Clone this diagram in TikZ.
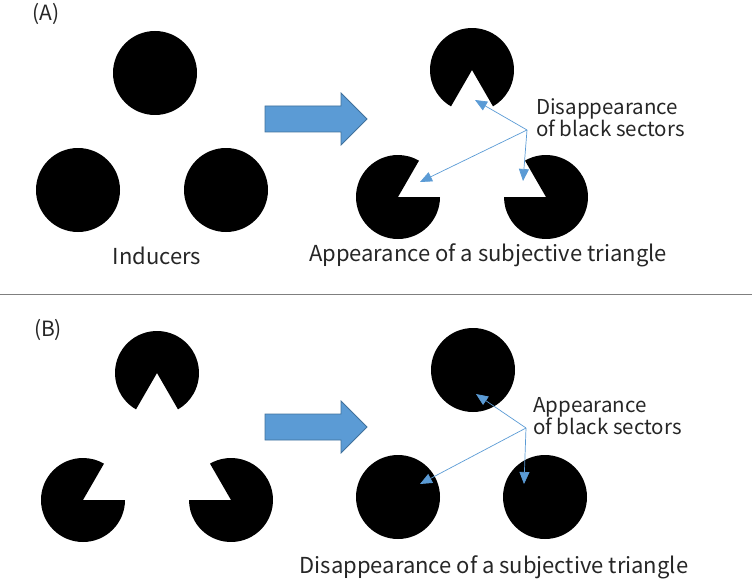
\documentclass[tikz,border=0pt]{standalone}
\usepackage{fontspec}
\setmainfont{Noto Sans CJK JP}
\usetikzlibrary{arrows.meta}
\definecolor{kzBlue}{HTML}{5B9BD5}
\definecolor{kzEdge}{HTML}{41719C}
\definecolor{kzText}{HTML}{262626}
\definecolor{kzRule}{HTML}{7F7F7F}
\tikzset{
  pics/inducer/.style 2 args={code={
    \fill[black] (0,0) -- (#2:42) arc[start angle=#2, end angle=#1+360, radius=42] -- cycle;
  }},
  disk/.style={fill=black},
  caption/.style={font=\fontsize{22}{22}\selectfont, text=kzText, inner sep=0pt},
  note/.style={font=\fontsize{20.5}{22}\selectfont, text=kzText, inner sep=0pt, align=left},
  paneltag/.style={font=\fontsize{21}{22}\selectfont, text=kzText, inner sep=0pt},
  bigarrow/.style={fill=kzBlue, draw=kzEdge, line width=0.8pt, line join=miter},
  pointer/.style={-{Triangle[length=12pt, width=10pt]}, draw=kzBlue, line width=0.7pt},
  divider/.style={draw=kzRule, line width=1pt}
}

\begin{document}
\begin{tikzpicture}[x=1pt, y=-1pt]
  \useasboundingbox (0,0) rectangle (752,583);

  % (A) inducers and the cut ones
  \node[paneltag] (tagA) at (46,14) {(A)};
  \foreach \c in {(155,73), (78,190), (226,190)}
    \fill[disk] \c circle[radius=42];
  \pic at (472,70) {inducer={60}{120}};
  \pic at (398,197) {inducer={-60}{0}};
  \pic at (546,197) {inducer={180}{240}};

  \node[caption, anchor=base] (inducers) at (157,264) {Inducers};
  \node[caption, anchor=base] (triA) at (488,261) {Appearance of a subjective triangle};
  \node[note, anchor=base west] (noteA) at (536,137) {Disappearance\\of black sectors};

  \coordinate (hubA) at (527,130);
  \coordinate (tipA1) at (475,100);
  \coordinate (tipA2) at (420,182);
  \coordinate (tipA3) at (523,181);
  \foreach \t in {tipA1, tipA2, tipA3}
    \draw[pointer] (hubA) -- (\t);

  % big arrows
  \foreach \dy in {0,308}
    \filldraw[bigarrow] (265,106+\dy) -- (341,106+\dy) -- (341,93+\dy) -- (367,119+\dy)
      -- (341,145+\dy) -- (341,132+\dy) -- (265,132+\dy) -- cycle;

  \draw[divider] (0,294) -- (752,294);

  % (B)
  \node[paneltag] (tagB) at (48,330) {(B)};
  \pic at (157,373) {inducer={60}{120}};
  \pic at (83,500) {inducer={-60}{0}};
  \pic at (231,500) {inducer={180}{240}};
  \foreach \c in {(473,370), (398,497), (545,497)}
    \fill[disk] \c circle[radius=42];

  \node[caption, anchor=base] (triB) at (494,573) {Disappearance of a subjective triangle};
  \node[note, anchor=base west] (noteB) at (533,434) {Appearance\\of black sectors};

  \coordinate (hubB) at (526,428);
  \coordinate (tipB1) at (476,394);
  \coordinate (tipB2) at (420,484);
  \coordinate (tipB3) at (524,484);
  \foreach \t in {tipB1, tipB2, tipB3}
    \draw[pointer] (hubB) -- (\t);
\end{tikzpicture}
\end{document}
